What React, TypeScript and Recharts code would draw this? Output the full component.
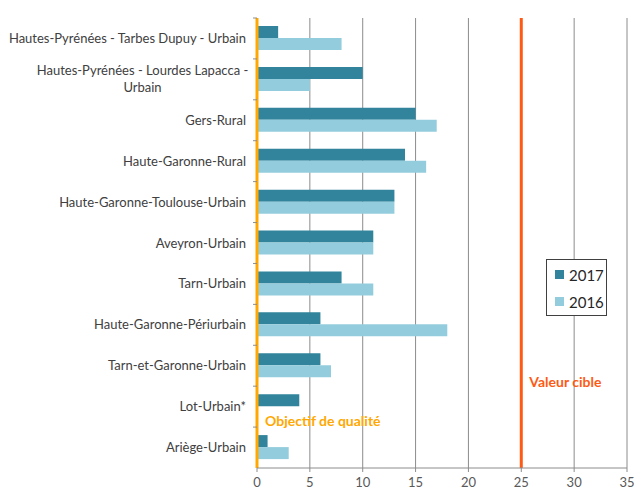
import React from 'react';
import { BarChart, Bar, XAxis, YAxis, CartesianGrid, ReferenceLine } from 'recharts';

const stations = [
  'Hautes-Pyrénées - Tarbes Dupuy - Urbain',
  'Hautes-Pyrénées - Lourdes Lapacca -\nUrbain',
  'Gers-Rural',
  'Haute-Garonne-Rural',
  'Haute-Garonne-Toulouse-Urbain',
  'Aveyron-Urbain',
  'Tarn-Urbain',
  'Haute-Garonne-Périurbain',
  'Tarn-et-Garonne-Urbain',
  'Lot-Urbain*',
  'Ariège-Urbain',
];
const values2017 = [2, 10, 15, 14, 13, 11, 8, 6, 6, 4, 1];
const values2016 = [8, 5, 17, 16, 13, 11, 11, 18, 7, null, 3];
const xTicks = [0, 5, 10, 15, 20, 25, 30, 35];
const objectifQualite = 0;
const valeurCible = 25;

const data = stations.map((name, i) => ({ name, y2017: values2017[i], y2016: values2016[i] }));

const W = 635;
const H = 491;
const TOP = 18;
const XAXIS_H = 23;
const PLOT_H = H - TOP - XAXIS_H;
const BAND = PLOT_H / stations.length;
const FONT = 'Lato, "Open Sans", sans-serif';

const C2017 = '#31849b';
const C2016 = '#93cddd';

const StationTick = (props: any) => {
  const { x, y, payload } = props;
  const lines: string[] = String(payload.value).split('\n');
  const boundary = (
    <line x1={x + 7} x2={x + 11} y1={y - BAND / 2} y2={y - BAND / 2} stroke="#8c8c8c" />
  );
  if (lines.length === 1) {
    return (
      <g>
        {boundary}
        <text x={x} y={y} dy="0.35em" textAnchor="end" fontSize={13} fill="#404040" fontFamily={FONT}>
          {lines[0]}
        </text>
      </g>
    );
  }
  // two-line label: block right aligned, lines centred inside it
  const blockW = 207;
  return (
    <g>
      {boundary}
      {lines.map((l, i) => (
        <text key={i} x={x - blockW / 2} y={y + (i - 0.5) * 17} dy="0.35em" textAnchor="middle" fontSize={13} fill="#404040" fontFamily={FONT}>
          {l}
        </text>
      ))}
    </g>
  );
};

const LegendBox = () => (
  <div style={{ position: 'absolute', left: 546, top: 259, border: '1px solid #404040', background: '#fff', width: 59, height: 55, fontFamily: FONT, fontSize: 15, color: '#262626' }}>
    {[{ c: C2017, t: '2017' }, { c: C2016, t: '2016' }].map((it, i) => (
      <div key={it.t} style={{ display: 'flex', alignItems: 'center', height: 27, marginTop: i === 0 ? 1 : 0 }}>
        <span style={{ width: 9, height: 9, background: it.c, marginLeft: 8, marginRight: 5 }} />
        <span>{it.t}</span>
      </div>
    ))}
  </div>
);

const refLabel = (text: string, color: string, frac: number) => (p: any) => {
  const vb = p.viewBox;
  return (
    <text x={vb.x + 8} y={vb.y + vb.height * frac} dy="0.35em" fill={color} fontSize={14} fontWeight="bold" fontFamily={FONT}>
      {text}
    </text>
  );
};

export default function App() {
  return (
    <div style={{ width: W, height: H, background: '#fff', position: 'relative' }}>
      <style>{'body{margin:0}'}</style>
      <BarChart
        width={W}
        height={H}
        data={data}
        layout="vertical"
        margin={{ top: TOP, right: 8, bottom: 0, left: 0 }}
        barSize={12}
        barGap={0}
        style={{ overflow: 'visible' }}
      >
        <CartesianGrid horizontal={false} stroke="#8c8c8c" />
        <XAxis
          type="number"
          domain={[0, 35]}
          ticks={xTicks}
          height={XAXIS_H}
          stroke="#8c8c8c"
          tickSize={4}
          tickMargin={6}
          interval={0}
          tick={{ fontSize: 13, fill: '#595959', fontFamily: FONT }}
        />
        <YAxis
          type="category"
          dataKey="name"
          width={257}
          axisLine={false}
          tickLine={false}
          tickSize={0}
          tickMargin={11}
          interval={0}
          tick={<StationTick />}
        />
        <Bar dataKey="y2017" name="2017" fill={C2017} isAnimationActive={false} />
        <Bar dataKey="y2016" name="2016" fill={C2016} isAnimationActive={false} />
        <ReferenceLine x={objectifQualite} stroke="#ffa800" strokeWidth={3} label={refLabel('Objectif de qualité', '#ffa800', 0.895)} />
        <ReferenceLine x={valeurCible} stroke="#ff5a14" strokeWidth={3} label={refLabel('Valeur cible', '#ff5a14', 0.81)} />
      </BarChart>
      <LegendBox />
    </div>
  );
}
